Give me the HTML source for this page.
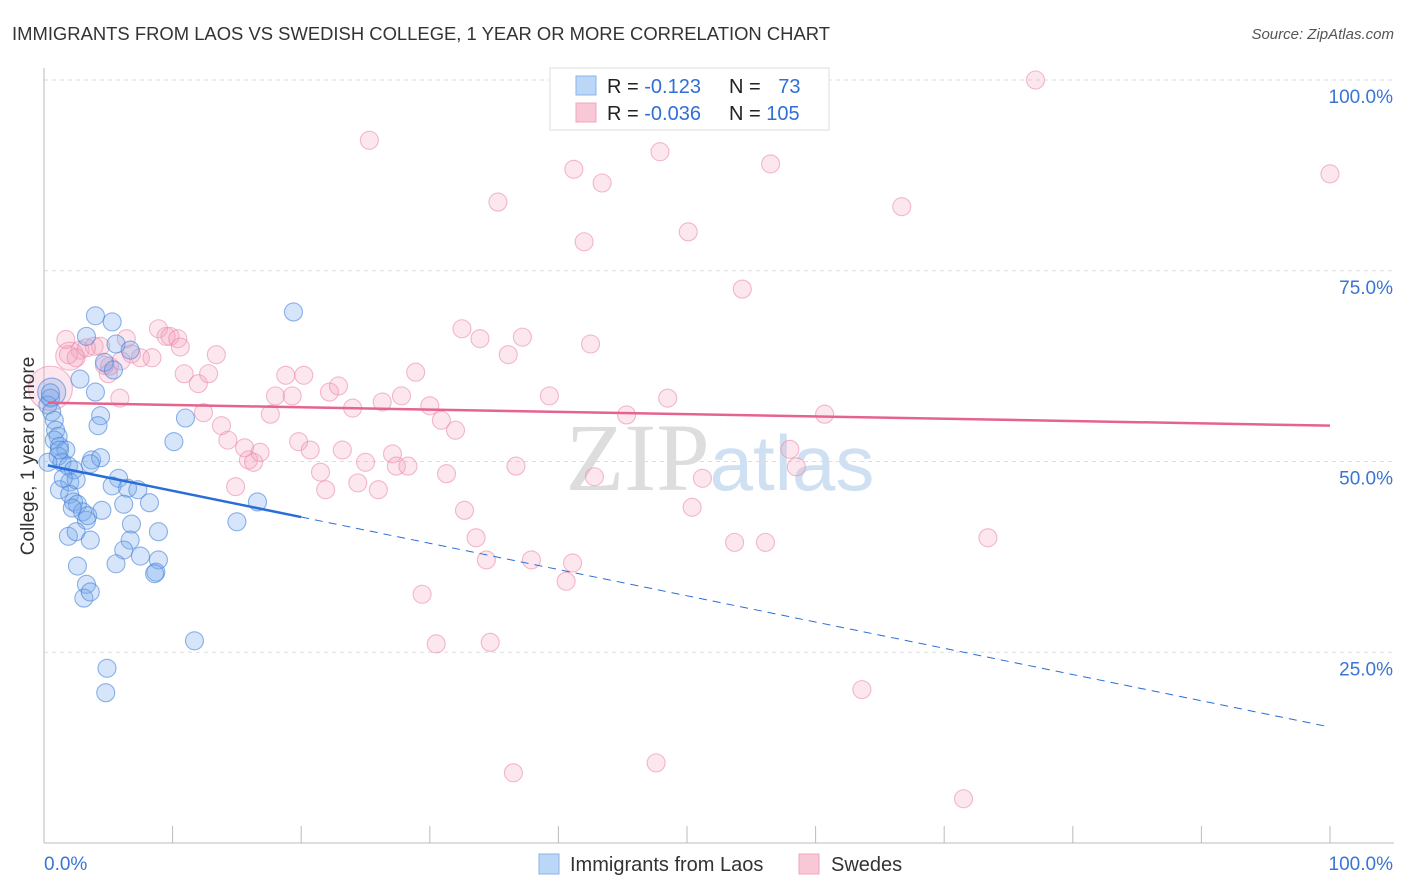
<!DOCTYPE html>
<html><head><meta charset="utf-8"><style>
body{margin:0;background:#fff;font-family:"Liberation Sans",sans-serif}
svg{display:block}
</style></head><body>
<svg id="chart" width="1406" height="892">
<text x="12" y="40" font-size="18" fill="#333" textLength="818" lengthAdjust="spacingAndGlyphs">IMMIGRANTS FROM LAOS VS SWEDISH COLLEGE, 1 YEAR OR MORE CORRELATION CHART</text>
<text x="1394" y="39" font-size="15" fill="#555" font-style="italic" text-anchor="end">Source: ZipAtlas.com</text>
<text x="720" y="490" font-size="96" fill="#ddd" text-anchor="middle" font-family="Liberation Serif">ZIP<tspan fill="#cfe0f3" font-family="Liberation Sans" font-size="78">atlas</tspan></text>
<g id="grid"></g><g id="pts"></g><g id="trends"></g>
<text transform="translate(34,456) rotate(-90)" font-size="19" fill="#333" text-anchor="middle">College, 1 year or more</text>
<g>
<rect x="550" y="68" width="279" height="62" fill="#fff" stroke="#ddd"/>
<rect x="576" y="76" width="20" height="19" fill="#bcd6f7" stroke="#8ab4ea"/>
<rect x="576" y="103" width="20" height="19" fill="#f9c8d6" stroke="#f0a6bd"/>
<text x="607" y="93" font-size="20" fill="#222">R = <tspan fill="#2f6fd6">-0.123</tspan></text>
<text x="729" y="93" font-size="20" fill="#222">N = <tspan fill="#2f6fd6" dx="12">73</tspan></text>
<text x="607" y="120" font-size="20" fill="#222">R = <tspan fill="#2f6fd6">-0.036</tspan></text>
<text x="729" y="120" font-size="20" fill="#222">N = <tspan fill="#2f6fd6">105</tspan></text>
</g>
<g>
<rect x="539" y="854" width="20" height="20" fill="#bcd6f7" stroke="#8ab4ea"/>
<text x="570" y="871" font-size="20" fill="#333">Immigrants from Laos</text>
<rect x="799" y="854" width="20" height="20" fill="#f9c8d6" stroke="#f0a6bd"/>
<text x="831" y="871" font-size="20" fill="#333">Swedes</text>
</g>
</svg>
<script>
const blueX=[0.6,0.5,0.3,0.6,0.8,0.9,1.1,0.8,1.2,1.7,1.1,1.4,1.9,2.3,2.0,2.5,1.2,2.0,2.3,2.6,3.0,3.3,3.4,1.9,2.5,3.6,2.6,3.3,3.1,3.6,4.0,5.3,3.3,5.6,4.7,5.4,2.8,4.0,4.4,4.2,3.7,4.4,5.8,5.3,6.5,7.3,4.5,6.2,8.2,6.8,6.7,6.2,7.5,5.6,8.9,8.7,8.6,8.9,11.0,10.1,19.4,16.6,15.0,11.7,4.9,4.8,6.7,0.3,1.2,3.6,1.5,2.2,0.5];
const blueY=[59.1,58.3,57.4,56.5,55.4,54.1,53.3,52.8,52.0,51.5,50.7,49.9,49.4,48.9,47.3,47.6,46.3,45.7,44.7,44.4,43.4,42.3,42.9,40.2,40.8,39.7,36.3,33.9,32.1,32.9,69.1,68.3,66.4,65.4,63.0,62.0,60.8,59.1,56.0,54.7,50.2,50.5,47.8,46.8,46.5,46.3,43.6,44.4,44.6,41.8,39.7,38.4,37.6,36.6,37.1,35.5,35.3,40.8,55.7,52.6,69.6,44.7,42.1,26.5,22.9,19.7,64.6,49.9,51.5,49.7,47.8,43.9,59.0];
const blueR=[14,9,9,9,9,9,9,9,9,9,9,9,9,9,9,9,9,9,9,9,9,9,9,9,9,9,9,9,9,9,9,9,9,9,9,9,9,9,9,9,9,9,9,9,9,9,9,9,9,9,9,9,9,9,9,9,9,9,9,9,9,9,9,9,9,9,9,9,9,9,9,9,9];
const pinkX=[0.5,2.0,2.8,1.9,2.5,3.9,4.4,6.4,6.8,7.5,8.4,8.9,9.5,9.8,10.4,5.1,5.0,5.9,10.9,12.0,13.4,12.8,12.4,13.8,14.3,15.6,15.9,16.3,16.8,14.9,17.6,18.0,18.8,19.3,20.2,19.8,20.7,21.5,21.9,22.2,22.9,23.2,24.0,24.4,25.0,25.3,26.0,26.3,27.1,27.4,27.8,28.3,28.9,29.4,30.0,30.9,31.3,32.0,32.5,32.7,33.9,33.6,34.4,30.5,34.7,35.3,36.1,36.7,37.2,36.5,37.9,39.3,40.6,41.1,41.2,42.0,42.5,43.4,42.8,45.3,46.8,47.9,48.5,50.1,50.4,51.2,47.6,53.7,54.3,56.1,56.5,58.0,58.5,60.7,63.6,66.7,71.5,73.4,77.1,100,3.3,1.7,4.7,6.0,10.6];
const pinkY=[59.6,63.8,64.6,64.0,63.6,65.1,65.1,66.1,64.1,63.6,63.6,67.4,66.4,66.4,66.1,62.5,61.5,58.3,61.5,60.2,64.0,61.5,56.4,54.7,52.8,51.8,50.2,49.9,51.2,46.7,56.2,58.6,61.3,58.6,61.3,52.6,51.5,48.6,46.3,59.1,59.9,51.5,57.0,47.2,49.9,92.1,46.3,57.8,51.0,49.4,58.6,49.4,61.7,32.6,57.3,55.4,48.4,54.1,67.4,43.6,66.1,40.0,37.1,26.1,26.3,84.0,64.0,49.4,66.3,9.2,37.1,58.6,34.3,36.7,88.3,78.8,65.4,86.5,48.0,56.1,100,90.6,58.3,80.1,44.0,47.8,10.5,39.4,72.6,39.4,89.0,51.6,49.3,56.2,20.1,83.4,5.8,40.0,100,87.7,64.9,66.0,62.6,63.2,65.0];
const pinkR=[22,14,9,9,9,9,9,9,9,9,9,9,9,9,9,9,9,9,9,9,9,9,9,9,9,9,9,9,9,9,9,9,9,9,9,9,9,9,9,9,9,9,9,9,9,9,9,9,9,9,9,9,9,9,9,9,9,9,9,9,9,9,9,9,9,9,9,9,9,9,9,9,9,9,9,9,9,9,9,9,9,9,9,9,9,9,9,9,9,9,9,9,9,9,9,9,9,9,9,9,9,9,9,9,9];
const blueTrend=[49.6,15.2], blueSolidEnd=20;
const pinkTrend=[57.7,54.7];
const yTicks=[100,75,50,25];
const yTickLabels=["100.0%","75.0%","50.0%","25.0%"];
const xTicks=[0,10,20,30,40,50,60,70,80,90,100];
const NS="http://www.w3.org/2000/svg";
const X0=44,X1=1330,Y0=843,Y1=80;
const sx=v=>X0+(X1-X0)*v/100, sy=v=>Y0-(Y0-Y1)*v/100;
function mk(tag,at,parent){const e=document.createElementNS(NS,tag);for(const k in at)e.setAttribute(k,at[k]);parent.appendChild(e);return e;}
const grid=document.getElementById('grid');
yTicks.forEach((t,i)=>{
  const l=mk('line',{x1:X0,x2:1394,y1:sy(t),y2:sy(t),stroke:'#ddd','stroke-dasharray':'4,4'},grid);
  
  
  const tx=mk('text',{x:1393,y:sy(t)+23,'font-size':19,fill:'#3a75d4','text-anchor':'end'},grid);
  tx.textContent=yTickLabels[i];
  
  
});
const ax=mk('line',{x1:X0,x2:X0,y1:68,y2:Y0,stroke:'#bbb'},grid);


const bx=mk('line',{x1:X0,x2:1394,y1:Y0,y2:Y0,stroke:'#bbb'},grid);


xTicks.forEach(t=>{const l=mk('line',{x1:sx(t),x2:sx(t),y1:Y0,y2:826,stroke:'#bbb'},grid);
  
  });
[['0.0%',X0,'start'],['100.0%',1393,'end']].forEach(a=>{const t=mk('text',{x:a[1],y:870,'font-size':19,fill:'#3a75d4','text-anchor':a[2]},grid);t.textContent=a[0];
  
  });
const pts=document.getElementById('pts');
pinkX.forEach((x,i)=>{const c=mk('circle',{cx:sx(x),cy:sy(pinkY[i]),r:pinkR[i],fill:'rgba(244,160,188,0.25)',stroke:'rgba(236,140,170,0.6)','stroke-width':1.1},pts);
  
  });
blueX.forEach((x,i)=>{const c=mk('circle',{cx:sx(x),cy:sy(blueY[i]),r:blueR[i],fill:'rgba(120,170,235,0.3)',stroke:'rgba(70,130,220,0.6)','stroke-width':1.1},pts);
  
  });
const tr=document.getElementById('trends');
const bl=x=>blueTrend[0]+(blueTrend[1]-blueTrend[0])*x/100;
const l1=mk('line',{x1:sx(0.3),y1:sy(bl(0.3)),x2:sx(blueSolidEnd),y2:sy(bl(blueSolidEnd)),stroke:'#2a6dd6','stroke-width':2.5},tr);


const l2=mk('line',{x1:sx(blueSolidEnd),y1:sy(bl(blueSolidEnd)),x2:sx(100),y2:sy(bl(100)),stroke:'#2a6dd6','stroke-width':1,'stroke-dasharray':'8,6'},tr);


const l3=mk('line',{x1:sx(0.3),y1:sy(pinkTrend[0]),x2:sx(100),y2:sy(pinkTrend[1]),stroke:'#e5648e','stroke-width':2.5},tr);


</script>
</body></html>
